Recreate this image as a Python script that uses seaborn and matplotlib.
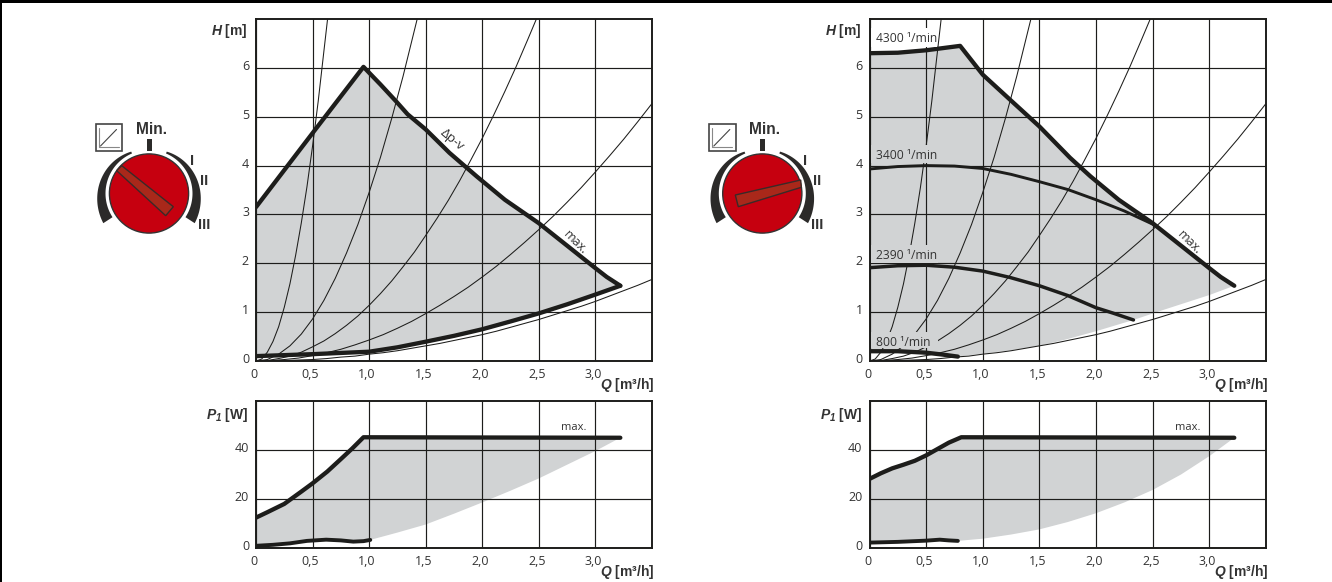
#!/usr/bin/env python3
## Pump curves: two H(Q) / P1(Q) panels with a control dial next to each

import numpy as np
import seaborn as sns
import matplotlib
matplotlib.use('Agg')
import matplotlib.pyplot as plt
from matplotlib.patches import Circle, Polygon, Rectangle
from matplotlib.transforms import ScaledTranslation

sns.set_theme(style='white')
plt.rcParams['font.family'] = ['Open Sans', 'DejaVu Sans']
plt.rcParams['mathtext.fontset'] = 'custom'
plt.rcParams['mathtext.it'] = 'Liberation Sans:italic:bold'
plt.rcParams['mathtext.rm'] = 'Liberation Sans:italic:bold'   # digit in the P1 subscript
plt.rcParams['mathtext.bf'] = 'Liberation Sans:bold'

W, H = 1332, 582
INK = '#1d1d1b'
TXT = '#333333'
GREY = '#d1d3d4'
RED = '#c6000f'
HANDLE = '#a9281a'

q_ticks = [0, 0.5, 1.0, 1.5, 2.0, 2.5, 3.0]
q_labels = ['0', '0,5', '1,0', '1,5', '2,0', '2,5', '3,0']
h_ticks = [0, 1, 2, 3, 4, 5, 6]
p_ticks = [0, 20, 40]

## system curves, same in both panels
sys_q1 = [0, .05, .1, .15, .2, .25, .3, .35, .4, .45, .5, .55, .6, .635]
sys_h1 = [0, .04, .18, .40, .70, 1.10, 1.58, 2.16, 2.82, 3.56, 4.40, 5.32, 6.34, 7.05]
sys_q2 = [0, .1, .2, .3, .4, .5, .6, .7, .8, .9, 1.0, 1.1, 1.2, 1.3, 1.43]
sys_h2 = [0, .03, .14, .31, .55, .86, 1.24, 1.69, 2.21, 2.79, 3.45, 4.17, 4.97, 5.83, 7.05]
sys_q3 = [0, .1, .2, .3, .4, .5, .6, .7, .8, .9, 1.0, 1.1, 1.2, 1.3, 1.4, 1.5, 1.6, 1.7, 1.8, 1.9, 2.0, 2.1, 2.2, 2.3, 2.4, 2.48]
sys_h3 = [0, .01, .05, .10, .18, .29, .41, .56, .73, .92, 1.14, 1.38, 1.64, 1.93, 2.23, 2.57, 2.92, 3.29, 3.69, 4.12, 4.56, 5.03, 5.52, 6.03, 6.57, 7.01]
sys_q4 = [0, .125, .25, .375, .5, .625, .75, .875, 1.0, 1.125, 1.25, 1.375, 1.5, 1.625, 1.75, 1.875, 2.0, 2.125, 2.25, 2.375, 2.5, 2.625, 2.75, 2.875, 3.0, 3.125, 3.25, 3.375, 3.5]
sys_h4 = [0, .01, .03, .06, .11, .17, .24, .33, .43, .54, .67, .81, .97, 1.14, 1.32, 1.51, 1.72, 1.94, 2.18, 2.43, 2.69, 2.96, 3.25, 3.55, 3.87, 4.20, 4.54, 4.90, 5.27]
sys_q5 = sys_q4
sys_h5 = [0, 0, .01, .02, .03, .05, .08, .10, .14, .17, .21, .26, .31, .36, .42, .48, .54, .61, .69, .77, .85, .94, 1.03, 1.12, 1.22, 1.33, 1.44, 1.55, 1.67]

## max curve tail, the same on both sides from Q=1.95 on
tail_q = [1.95, 2.2, 2.35, 2.5, 2.75, 3.0, 3.1, 3.22]
tail_h = [3.78, 3.3, 3.06, 2.82, 2.36, 1.9, 1.72, 1.54]

## left panel, delta-p-v
dpv_q = [0, .505, .95]
dpv_h = [3.15, 4.68, 6.02]
lmax_q = [.95, 1.1, 1.24, 1.34, 1.5, 1.71] + tail_q
lmax_h = [6.02, 5.66, 5.31, 5.05, 4.74, 4.26] + tail_h
lmin_q = [0, .25, .5, .75, 1.0, 1.25, 1.5, 1.75, 2.0, 2.25, 2.5, 2.75, 3.0, 3.22]
lmin_h = [.1, .12, .14, .165, .19, .28, .395, .515, .65, .81, .975, 1.16, 1.36, 1.54]
lp_up_q = [0, .1, .25, .4, .5, .63, .75, .85, .95, 2.0, 3.22]
lp_up_p = [12.4, 14.6, 18.0, 23.0, 26.4, 31.2, 36.3, 40.6, 45.2, 45.1, 45.0]
lp_lo_q = [0, .15, .3, .45, .62, .75, .86, .95, 1.01]
lp_lo_p = [.9, 1.3, 1.9, 2.9, 3.4, 3.1, 2.6, 2.8, 3.3]
lp_edge_q = [1.01, 1.25, 1.5, 1.75, 2.0, 2.25, 2.5, 2.75, 3.0, 3.22]
lp_edge_p = [3.3, 6.3, 9.6, 14.0, 18.6, 23.4, 28.4, 34.0, 39.6, 45.0]

## right panel, constant speed
s4300_q = [0, .25, .5, .8]
s4300_h = [6.3, 6.31, 6.36, 6.45]
rmax_q = [.8, 1.0, 1.24, 1.5, 1.77] + tail_q
rmax_h = [6.45, 5.86, 5.35, 4.8, 4.16] + tail_h
s3400_q = [0, .25, .5, .75, 1.0, 1.25, 1.5, 1.75, 2.0, 2.25, 2.51]
s3400_h = [3.93, 3.98, 4.0, 3.99, 3.94, 3.82, 3.67, 3.51, 3.3, 3.07, 2.79]
s2390_q = [0, .25, .5, .75, 1.0, 1.24, 1.5, 1.75, 2.0, 2.15, 2.33]
s2390_h = [1.91, 1.95, 1.96, 1.92, 1.84, 1.71, 1.54, 1.34, 1.09, .98, .84]
s800_q = [0, .25, .5, .65, .78]
s800_h = [.2, .2, .17, .13, .09]
r_edge_q = [.78, 1.0, 1.25, 1.5, 1.75, 2.0, 2.33, 2.6, 2.8, 3.0, 3.22]
r_edge_h = [.09, .15, .22, .31, .45, .61, .84, 1.05, 1.2, 1.35, 1.54]
rp_up_q = [0, .1, .2, .3, .4, .5, .6, .7, .81, 2.0, 3.22]
rp_up_p = [28.2, 30.5, 32.5, 34.0, 35.6, 37.8, 40.4, 43.0, 45.2, 45.1, 45.0]
rp_lo_q = [0, .25, .5, .62, .7, .78]
rp_lo_p = [2.2, 2.5, 3.0, 3.4, 3.1, 2.9]
rp_edge_q = [.78, 1.0, 1.25, 1.5, 1.75, 2.0, 2.25, 2.5, 2.75, 3.0, 3.22]
rp_edge_p = [2.9, 3.8, 5.5, 7.6, 10.6, 14.2, 18.6, 23.7, 30.0, 37.5, 45.0]

################################################
def new_axes(fig, left, top, right, bottom):
  return fig.add_axes([left/W, 1-bottom/H, (right-left)/W, (bottom-top)/H])

def curve(ax, q, y, lw, z=4):
  sns.lineplot(x=q, y=y, ax=ax, color=INK, lw=lw, sort=False, estimator=None, zorder=z)
  ax.lines[-1].set_solid_capstyle('round')
  ax.lines[-1].set_solid_joinstyle('round')

def style_axes(ax, yticks, ymax):
  ax.set_xlim(0, 3.5)
  ax.set_ylim(0, ymax)
  ax.set_xticks(q_ticks)
  ax.set_xticklabels(q_labels)
  ax.set_yticks(yticks)
  ax.set_yticklabels([str(v) for v in yticks])
  ax.set_xlabel('')
  ax.set_ylabel('')
  ax.grid(True, color=INK, lw=0.85)
  ax.set_axisbelow(False)
  for ln in ax.get_xgridlines() + ax.get_ygridlines():
    ln.set_zorder(2)
  ax.tick_params(length=0, labelsize=9, labelcolor=TXT, pad=5)
  for lab in ax.get_xticklabels():
    lab.set_transform(lab.get_transform() + ScaledTranslation(-2/100, 0, ax.figure.dpi_scale_trans))
  for lab in ax.get_yticklabels():
    lab.set_transform(lab.get_transform() + ScaledTranslation(0, 3/100, ax.figure.dpi_scale_trans))
  for sp in ax.spines.values():
    sp.set_visible(True)
    sp.set_color(INK)
    sp.set_linewidth(1.4)
    sp.set_zorder(6)

def thin_curves(ax):
  for q, y in [(sys_q1, sys_h1), (sys_q2, sys_h2), (sys_q3, sys_h3),
               (sys_q4, sys_h4), (sys_q5, sys_h5)]:
    curve(ax, q, y, 0.75, z=3)

def draw_dial(ov, dx, handle):
  cx, cy = 149 + dx, 193.5
  ov.add_patch(Circle((cx, cy), 39.6, fc=RED, ec='#333333', lw=1.0))
  ang = np.radians(np.linspace(23, 123, 50))
  r_out = np.linspace(45.5, 54.5, 50)
  for sgn in (-1, 1):
    outer = np.c_[cx + sgn*r_out*np.sin(ang), cy - r_out*np.cos(ang)]
    inner = np.c_[cx + sgn*43.5*np.sin(ang), cy - 43.5*np.cos(ang)][::-1]
    ov.add_patch(Polygon(np.r_[outer, inner], fc='#2b2a29', ec='none'))
  ov.add_patch(Polygon([(x + dx, y) for x, y in handle], fc=HANDLE, ec='#3a2a28', lw=1.0))
  ov.add_patch(Rectangle((146.7 + dx, 139.3), 5.3, 11.4, fc='#2b2a29', ec='none'))
  ov.text(151.7 + dx, 130, 'Min.', ha='center', va='center', fontsize=11.2,
          family='Liberation Sans', weight='bold', color=TXT)
  for lab, x, y in [('I', 191.7, 160.7), ('II', 204, 181), ('III', 204.3, 225)]:
    ov.text(x + dx, y, lab, ha='center', va='center', fontsize=10.5,
            family='Liberation Sans', weight='bold', color=TXT)
  ## small curve-type icon
  ov.add_patch(Rectangle((96 + dx, 123.6), 26.3, 27, fc='white', ec='#444444', lw=1.2))
  ov.plot([99 + dx, 99 + dx, 119 + dx], [127.5, 146.5, 146.5], color='#888888', lw=0.8)
  ov.plot([100.5 + dx, 116.5 + dx], [146, 129.5], color='#444444', lw=0.8)

def bold_label(ov, x, y, s):
  ov.text(x, y, s, ha='right', va='center', fontsize=10, family='Liberation Sans',
          weight='bold', color=TXT)

################################################
fig = plt.figure(figsize=(W/100, H/100), dpi=100, facecolor='white')

ax_lh = new_axes(fig, 256, 19, 652, 361)
ax_lp = new_axes(fig, 256, 401, 652, 548)
ax_rh = new_axes(fig, 869.5, 19, 1266, 361)
ax_rp = new_axes(fig, 869.5, 401, 1266, 548)

THICK = 3.1

## left H(Q)
ax_lh.fill(dpv_q + lmax_q + lmin_q[::-1], dpv_h + lmax_h + lmin_h[::-1], color=GREY, lw=0, zorder=1)
thin_curves(ax_lh)
curve(ax_lh, dpv_q + lmax_q, dpv_h + lmax_h, THICK)
curve(ax_lh, lmin_q, lmin_h, THICK)
style_axes(ax_lh, h_ticks, 7)

## left P1(Q)
ax_lp.fill(lp_up_q + lp_edge_q[::-1] + lp_lo_q[::-1], lp_up_p + lp_edge_p[::-1] + lp_lo_p[::-1],
           color=GREY, lw=0, zorder=1)
curve(ax_lp, lp_up_q, lp_up_p, THICK)
curve(ax_lp, lp_lo_q, lp_lo_p, 2.8)
style_axes(ax_lp, p_ticks, 60)

## right H(Q)
ax_rh.fill(s4300_q + rmax_q + r_edge_q[::-1] + s800_q[::-1], s4300_h + rmax_h + r_edge_h[::-1] + s800_h[::-1],
           color=GREY, lw=0, zorder=1)
thin_curves(ax_rh)
curve(ax_rh, s4300_q + rmax_q, s4300_h + rmax_h, THICK)
curve(ax_rh, s3400_q, s3400_h, 2.1)
curve(ax_rh, s2390_q, s2390_h, 2.5)
curve(ax_rh, s800_q, s800_h, THICK)
style_axes(ax_rh, h_ticks, 7)

## right P1(Q)
ax_rp.fill(rp_up_q + rp_edge_q[::-1] + rp_lo_q[::-1], rp_up_p + rp_edge_p[::-1] + rp_lo_p[::-1],
           color=GREY, lw=0, zorder=1)
curve(ax_rp, rp_up_q, rp_up_p, THICK)
curve(ax_rp, rp_lo_q, rp_lo_p, 2.8)
style_axes(ax_rp, p_ticks, 60)

## overlay in pixel coordinates, for the dials and the annotations
ov = fig.add_axes([0, 0, 1, 1], zorder=10)
ov.set_xlim(0, W)
ov.set_ylim(H, 0)
ov.axis('off')
ov.patch.set_alpha(0)

ov.add_patch(Rectangle((0, 0), W, 3, fc='black', ec='none'))
ov.add_patch(Rectangle((0, 0), 1.5, H, fc='black', ec='none'))

draw_dial(ov, 0, [(116.7, 170.7), (121.7, 165.7), (173.3, 206.7), (165.7, 215.7)])
draw_dial(ov, 613.3, [(187.4, 180), (188, 187.3), (125, 206.7), (122, 195)])

for dx in (0, 614):
  bold_label(ov, 248 + dx, 30.7, r'$\mathit{H}$ $\mathbf{[m]}$')
  bold_label(ov, 248 + dx, 415, r'$\mathit{P_1}$ $\mathbf{[W]}$')
  bold_label(ov, 654 + dx, 385, r'$\mathit{Q}$ $\mathbf{[m³/h]}$')
  bold_label(ov, 654 + dx, 571.7, r'$\mathit{Q}$ $\mathbf{[m³/h]}$')
  ov.text(573.3 + dx, 427.7, 'max.', ha='center', va='center', fontsize=8, color=TXT)
  ov.text(575 + dx, 243, 'max.', ha='center', va='center', fontsize=9, color=TXT, rotation=-45)

ov.text(451.7, 140, 'Δp-v', ha='center', va='center', fontsize=9.5, color=TXT, rotation=-40)

for lab, x1, y0, y1, yt, fc in [('4300 ¹/min', 937, 28, 47, 39, 'white'),
                                ('3400 ¹/min', 937, 145, 163, 155.7, GREY),
                                ('2390 ¹/min', 938, 245, 263, 255.7, GREY),
                                ('800 ¹/min', 938, 332, 348, 342, GREY)]:
  ov.add_patch(Rectangle((871, y0), x1 - 871, y1 - y0, fc=fc, ec='none'))
  ov.text(875.5, yt, lab, ha='left', va='center', fontsize=8.7, color=TXT)

fig.savefig('out.png', dpi=100)
